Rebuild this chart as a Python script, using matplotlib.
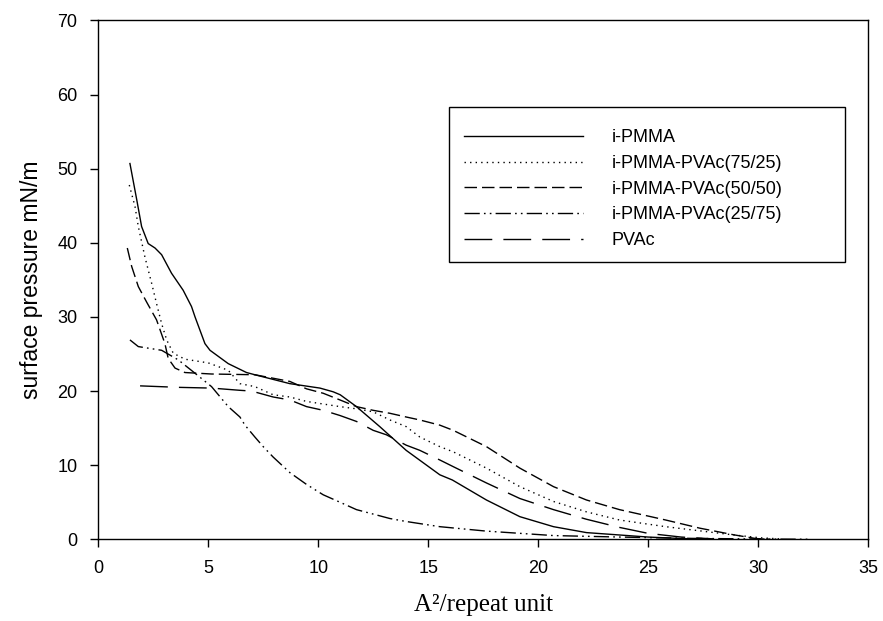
import matplotlib
matplotlib.use("Agg")
import matplotlib.pyplot as plt
from matplotlib.patches import Rectangle

# surface pressure isotherms
pmma_x = [1.44, 1.75, 1.97, 2.27, 2.58, 2.88, 3.33, 3.86, 4.24, 4.4, 4.85, 5.08, 5.91,
          6.74, 7.12, 8.71, 10.08, 10.68, 11.0, 11.74, 12.8, 14.0, 15.53, 16.1, 17.65,
          19.17, 20.7, 22.2, 23.7, 25.0, 26.5, 27.5]
pmma_y = [50.7, 45.8, 42.2, 39.9, 39.3, 38.4, 35.9, 33.6, 31.4, 30.0, 26.4, 25.5, 23.7,
          22.5, 22.2, 21.0, 20.4, 19.9, 19.5, 17.9, 15.2, 12.0, 8.7, 8.0, 5.3,
          3.05, 1.7, 0.9, 0.58, 0.3, 0.1, 0.03]

p7525_x = [1.41, 1.67, 1.82, 2.12, 2.43, 2.65, 2.88, 3.11, 3.41, 3.94, 5.0, 5.91, 6.44,
           7.12, 7.95, 8.71, 9.47, 10.99, 11.74, 12.5, 13.26, 14.0, 14.62, 15.53, 16.14,
           17.65, 19.17, 20.7, 22.2, 23.7, 25.8, 28.9, 30.1, 31.0]
p7525_y = [47.8, 44.9, 42.2, 38.1, 34.5, 31.8, 29.1, 26.9, 25.1, 24.3, 23.8, 22.8, 21.0,
           20.6, 19.5, 19.2, 18.6, 17.9, 17.6, 17.2, 16.1, 15.2, 13.8, 12.5, 11.8,
           9.6, 7.1, 5.1, 3.7, 2.6, 1.7, 0.58, 0.2, 0.05]

p5050_x = [1.32, 1.52, 1.82, 2.2, 2.65, 3.03, 3.18, 3.49, 3.94, 5.15, 7.12, 8.71, 9.47,
           10.23, 10.99, 11.74, 12.5, 13.26, 14.0, 14.62, 15.53, 16.14, 17.65, 19.17,
           20.7, 22.2, 23.7, 25.8, 27.35, 28.9, 29.9, 30.5]
p5050_y = [39.3, 36.8, 34.1, 32.0, 29.6, 26.4, 24.4, 23.1, 22.5, 22.3, 22.2, 21.3, 20.3,
           19.7, 18.8, 17.9, 17.4, 17.0, 16.5, 16.1, 15.4, 14.7, 12.5, 9.6,
           7.1, 5.3, 4.0, 2.6, 1.5, 0.6, 0.1, 0.0]

p2575_x = [1.44, 1.82, 2.88, 3.64, 4.4, 5.15, 5.91, 6.44, 6.67, 7.12, 7.5, 7.95, 8.71,
           9.47, 10.23, 10.99, 11.74, 12.5, 13.26, 14.0, 15.53, 17.65, 20.7, 23.7, 27.0,
           30.0, 32.3]
p2575_y = [26.9, 26.0, 25.5, 24.2, 22.4, 20.6, 17.9, 16.5, 15.4, 13.8, 12.5, 11.1, 9.0,
           7.4, 6.0, 5.0, 4.0, 3.4, 2.8, 2.4, 1.7, 1.1, 0.5, 0.3, 0.12,
           0.04, 0.0]

pvac_x = [1.9, 3.64, 5.15, 6.44, 6.97, 7.95, 8.71, 9.47, 10.23, 10.99, 11.74, 12.5, 13.1,
          14.0, 14.62, 15.53, 16.14, 17.65, 19.17, 20.7, 22.2, 23.7, 25.0, 26.5, 28.0]
pvac_y = [20.7, 20.5, 20.4, 20.1, 20.0, 19.2, 18.8, 17.9, 17.4, 16.7, 15.9, 14.7, 14.1,
          12.7, 12.0, 10.7, 9.8, 7.6, 5.5, 4.0, 2.7, 1.6, 0.8, 0.3, 0.05]

labels = ["i-PMMA", "i-PMMA-PVAc(75/25)", "i-PMMA-PVAc(50/50)",
          "i-PMMA-PVAc(25/75)", "PVAc"]

plt.rcParams["font.family"] = ["Liberation Sans", "DejaVu Sans"]

fig = plt.figure(figsize=(8.83, 6.21), dpi=100)
ax = fig.add_axes([0.1113, 0.1316, 0.8717, 0.8354])

lw = 1.0
ax.plot(pmma_x, pmma_y, color="black", lw=lw, ls="-", label=labels[0])
ax.plot(p7525_x, p7525_y, color="black", lw=lw, ls=(0, (1, 3)), label=labels[1])
ax.plot(p5050_x, p5050_y, color="black", lw=lw, ls=(0, (9, 3.6)), label=labels[2])
ax.plot(p2575_x, p2575_y, color="black", lw=lw,
        ls=(0, (11, 3, 1.2, 3, 1.2, 3)), label=labels[3])
ax.plot(pvac_x, pvac_y, color="black", lw=lw, ls=(0, (20, 8)), label=labels[4])

ax.set_xlim(0, 35)
ax.set_ylim(0, 70)
ax.set_xticks(range(0, 36, 5))
ax.set_yticks(range(0, 71, 10))
ax.tick_params(direction="out", length=6, width=1, labelsize=13, pad=9,
               top=False, right=False)
for s in ax.spines.values():
    s.set_linewidth(1)

ax.set_ylabel("surface pressure mN/m", fontsize=16.5, labelpad=10)
ax.set_xlabel("A\u00b2/repeat unit", fontsize=18, labelpad=12,
              family=["Liberation Serif", "DejaVu Serif"])

# legend box is wider than its content in the reference
ax.add_patch(Rectangle((0.4556, 0.5345), 0.5144, 0.2985, transform=ax.transAxes,
                       fill=False, edgecolor="black", lw=1))
ax.legend(loc="upper left", bbox_to_anchor=(0.475, 0.790), frameon=False,
          fontsize=13, handlelength=6.6, handletextpad=1.6, labelspacing=0.48,
          borderpad=0, borderaxespad=0)

fig.savefig("out.png", dpi=100)
